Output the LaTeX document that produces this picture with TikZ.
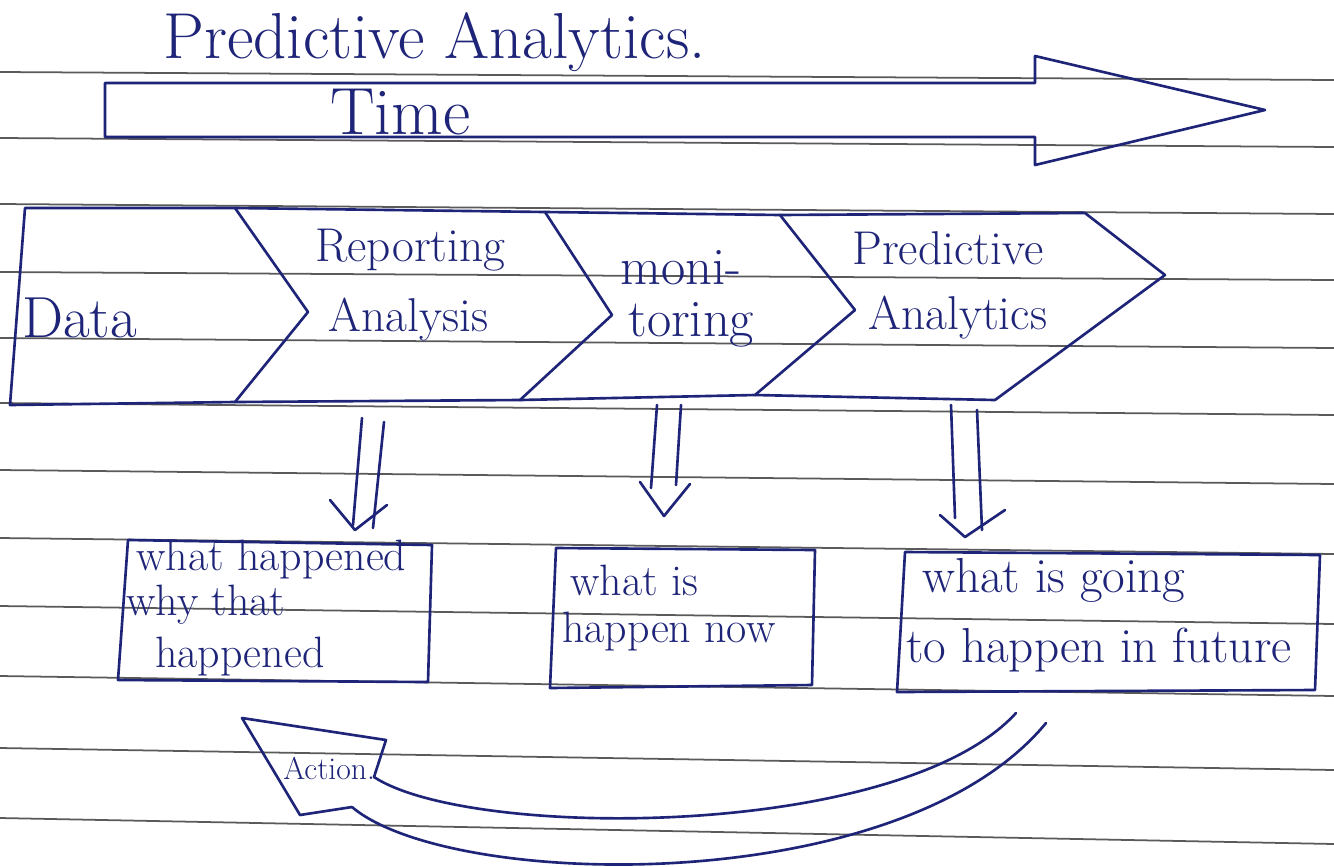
\documentclass[tikz,border=0pt]{standalone}
\usepackage{fontspec}
\definecolor{ink}{HTML}{1E2478}
\definecolor{paperline}{HTML}{5A5A5A}
\begin{document}
\begin{tikzpicture}[x=0.02cm,y=-0.02cm,line join=round,line cap=round,
  inkline/.style={draw=ink,line width=1.5pt},
  ruleline/.style={draw=paperline,line width=1pt},
  hand/.style={text=ink,inner sep=0pt,anchor=west},
  title/.style={hand,font=\fontsize{37}{42}\selectfont},
  timetxt/.style={hand,font=\fontsize{38}{44}\selectfont\addfontfeatures{LetterSpace=12}},
  chev/.style={hand,font=\fontsize{27}{32}\selectfont},
  chevbig/.style={hand,font=\fontsize{30}{34}\selectfont},
  datatxt/.style={hand,font=\fontsize{33}{38}\selectfont},
  boxtxt/.style={hand,font=\fontsize{25}{28}\selectfont},
  boxbig/.style={hand,font=\fontsize{28}{31}\selectfont},
  acttxt/.style={hand,font=\fontsize{18}{20}\selectfont}]
\useasboundingbox (0,0) rectangle (1334,866);
\fill[white] (0,0) rectangle (1334,866);
% ruled paper lines
\foreach \ya/\d in {72/8,138/9,204/10,272/8,338/10,403/12,470/14,538/16,606/18,676/20,748/22,818/26}
  \draw[ruleline] (0,\ya) -- (1334,\ya+\d);
% title
\node[title] (ttl) at (163,42) {Predictive Analytics.};
% time arrow
\draw[inkline] (105,83) -- (1035,83) -- (1035,56) -- (1265,110) -- (1035,165) -- (1035,137) -- (105,137) -- cycle;
\node[timetxt] (time) at (330,112) {Time};
% chevrons
\draw[inkline] (25,208) -- (235,208) -- (308,312) -- (235,402) -- (10,405) -- cycle;
\draw[inkline] (235,208) -- (545,212) -- (612,315) -- (520,400) -- (235,402);
\draw[inkline] (545,212) -- (780,215) -- (855,310) -- (755,395) -- (520,400);
\draw[inkline] (780,215) -- (1085,213) -- (1165,275) -- (995,400) -- (755,395);
\node[datatxt] (data) at (22,318) {Data};
\node[chev] (rep1) at (315,250) {Reporting};
\node[chev] (rep2) at (328,320) {Analysis};
\node[chevbig] (mon1) at (620,268) {moni-};
\node[chevbig] (mon2) at (628,325) {toring};
\node[chev] (pre1) at (852,248) {Predictive};
\node[chev] (pre2) at (868,318) {Analytics};
% double arrows
\coordinate (a1s1) at (362,418); \coordinate (a1e1) at (353,525);
\coordinate (a1s2) at (384,422); \coordinate (a1e2) at (373,528);
\coordinate (a1h1) at (330,500); \coordinate (a1t) at (355,530); \coordinate (a1h2) at (387,505);
\draw[inkline] (a1s1) -- (a1e1); \draw[inkline] (a1s2) -- (a1e2);
\draw[inkline] (a1h1) -- (a1t) -- (a1h2);
\coordinate (a2s1) at (657,405); \coordinate (a2e1) at (651,488);
\coordinate (a2s2) at (681,405); \coordinate (a2e2) at (676,485);
\coordinate (a2h1) at (640,482); \coordinate (a2t) at (664,516); \coordinate (a2h2) at (690,484);
\draw[inkline] (a2s1) -- (a2e1); \draw[inkline] (a2s2) -- (a2e2);
\draw[inkline] (a2h1) -- (a2t) -- (a2h2);
\coordinate (a3s1) at (951,405); \coordinate (a3e1) at (955,518);
\coordinate (a3s2) at (977,410); \coordinate (a3e2) at (982,530);
\coordinate (a3h1) at (940,515); \coordinate (a3t) at (965,537); \coordinate (a3h2) at (1005,510);
\draw[inkline] (a3s1) -- (a3e1); \draw[inkline] (a3s2) -- (a3e2);
\draw[inkline] (a3h1) -- (a3t) -- (a3h2);
% boxes
\draw[inkline] (128,540) -- (432,545) -- (428,682) -- (118,680) -- cycle;
\node[boxtxt] (b1a) at (136,560) {what happened};
\node[boxtxt] (b1b) at (126,605) {why that};
\node[boxtxt] (b1c) at (155,657) {happened};
\draw[inkline] (556,548) -- (815,550) -- (812,685) -- (550,688) -- cycle;
\node[boxtxt] (b2a) at (570,580) {what is};
\node[boxtxt] (b2b) at (562,632) {happen now};
\draw[inkline] (905,552) -- (1320,555) -- (1315,690) -- (897,692) -- cycle;
\node[boxbig] (b3a) at (922,580) {what is going};
\node[boxbig] (b3b) at (906,650) {to happen in future};
% action arrow
\coordinate (hA) at (242,718); \coordinate (hB) at (386,740);
\coordinate (hC) at (374,777); \coordinate (hD) at (300,815); \coordinate (hE) at (352,807);
\coordinate (uE) at (1016,713); \coordinate (lE) at (1046,723);
\draw[inkline] (hC) -- (hB) -- (hA) -- (hD) -- (hE);
\draw[inkline] (hC) .. controls (470,840) and (900,840) .. (uE);
\draw[inkline] (hE) .. controls (450,890) and (900,900) .. (lE);
\node[acttxt] (act) at (283,768) {Action.};
\end{tikzpicture}
\end{document}
